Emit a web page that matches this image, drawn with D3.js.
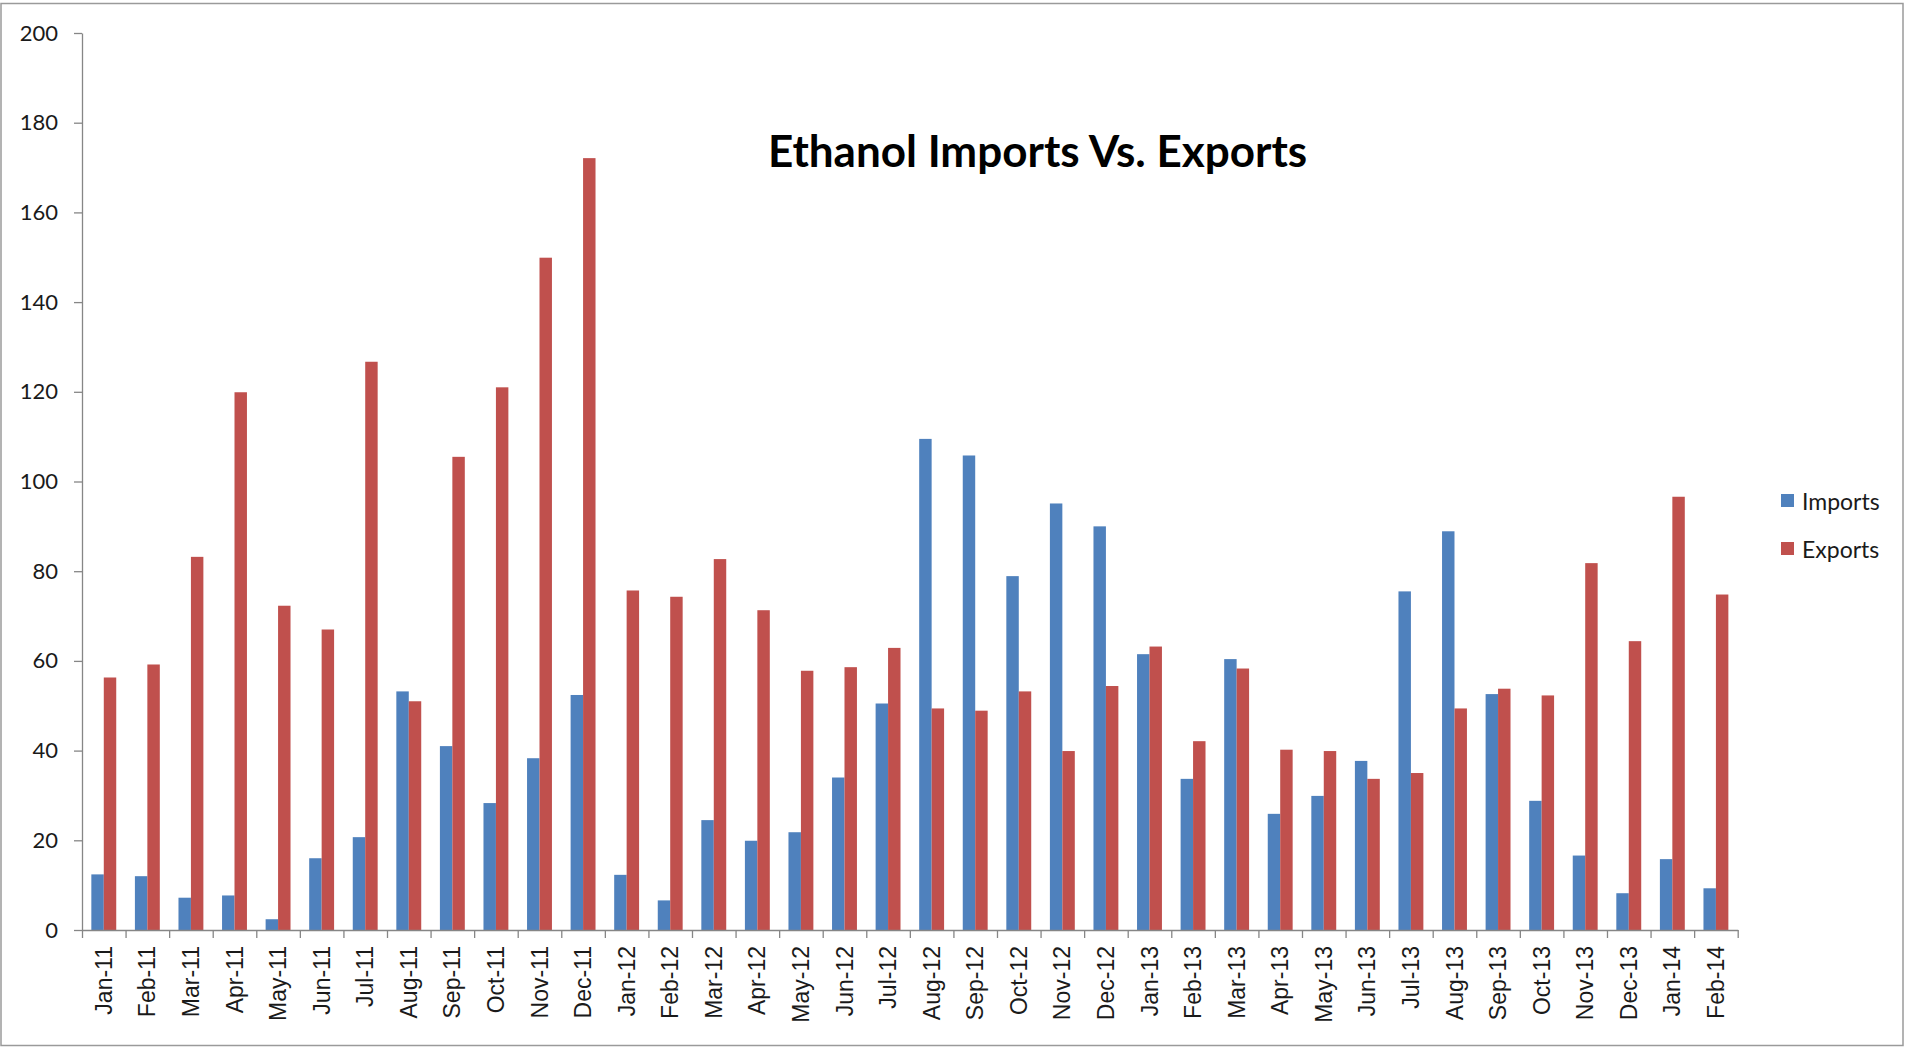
<!DOCTYPE html>
<html>
<head>
<meta charset="utf-8">
<script src="https://cdn.jsdelivr.net/npm/d3@7"></script>
<style>
  html, body { margin: 0; padding: 0; background: #fff; }
  svg { display: block; }
</style>
</head>
<body>
<svg id="chart" width="1905" height="1047"></svg>
<script>
(() => {
  const months = [
    "Jan-11", "Feb-11", "Mar-11", "Apr-11", "May-11", "Jun-11", "Jul-11", "Aug-11", "Sep-11", "Oct-11", "Nov-11", "Dec-11",
    "Jan-12", "Feb-12", "Mar-12", "Apr-12", "May-12", "Jun-12", "Jul-12", "Aug-12", "Sep-12", "Oct-12", "Nov-12", "Dec-12",
    "Jan-13", "Feb-13", "Mar-13", "Apr-13", "May-13", "Jun-13", "Jul-13", "Aug-13", "Sep-13", "Oct-13", "Nov-13", "Dec-13",
    "Jan-14", "Feb-14",
  ];
  const imports = [
    12.4, 12.0, 7.2, 7.7, 2.4, 16.0, 20.7, 53.2, 41.0, 28.3, 38.3, 52.4,
    12.3, 6.6, 24.5, 19.9, 21.8, 34.0, 50.5, 109.5, 105.8, 78.9, 95.1, 90.0,
    61.5, 33.7, 60.4, 25.9, 29.9, 37.7, 75.5, 88.9, 52.6, 28.8, 16.6, 8.2,
    15.8, 9.3,
  ];
  const exports = [
    56.3, 59.2, 83.2, 119.9, 72.3, 67.0, 126.7, 51.0, 105.5, 121.0, 149.9, 172.1,
    75.7, 74.3, 82.7, 71.3, 57.8, 58.6, 62.9, 49.4, 48.9, 53.2, 39.9, 54.4,
    63.2, 42.1, 58.3, 40.2, 39.9, 33.7, 35.0, 49.4, 53.8, 52.3, 81.8, 64.4,
    96.6, 74.8,
  ];
  const seriesNames = ["Imports", "Exports"];
  const yTicks = [0, 20, 40, 60, 80, 100, 120, 140, 160, 180, 200];
  const title = "Ethanol Imports Vs. Exports";

  const colors = { Imports: "#4F81BD", Exports: "#C0504D" };
  const axisColor = "#868686";
  const textColor = "#1a1a1a";

  const svg = d3.select("#chart");

  // outer chart border
  svg.append("rect")
    .attr("x", 1).attr("y", 3.5)
    .attr("width", 1902).attr("height", 1042)
    .attr("fill", "#fff")
    .attr("stroke", "#9a9a9a")
    .attr("stroke-width", 1.5);

  const plot = { left: 82, right: 1737.7, top: 33, bottom: 930 };

  const x = d3.scaleBand().domain(months).range([plot.left, plot.right]).padding(0);
  const bw = x.bandwidth();
  const gapHalf = (bw * 0.75) / 3.5;
  const xs = d3.scaleBand().domain(seriesNames).range([gapHalf, bw - gapHalf]).padding(0);

  const y = d3.scaleLinear().domain([0, 200]).range([plot.bottom, plot.top]);

  const rows = months.map((m, i) => ({ month: m, Imports: imports[i], Exports: exports[i] }));

  // bars
  const groups = svg.append("g")
    .selectAll("g")
    .data(rows)
    .join("g")
    .attr("transform", (d) => `translate(${x(d.month)},0)`);

  groups.selectAll("rect")
    .data((d) => seriesNames.map((s) => ({ key: s, value: d[s] })))
    .join("rect")
    .attr("x", (d) => xs(d.key))
    .attr("y", (d) => y(d.value))
    .attr("width", xs.bandwidth())
    .attr("height", (d) => y(0) - y(d.value))
    .attr("fill", (d) => colors[d.key]);

  // y axis
  const yAxis = svg.append("g")
    .attr("transform", `translate(${plot.left},0)`)
    .call(d3.axisLeft(y).tickValues(yTicks).tickSize(8).tickSizeOuter(0).tickPadding(16));
  yAxis.select(".domain").attr("stroke", axisColor).attr("stroke-width", 1.3);
  yAxis.selectAll(".tick line").attr("stroke", axisColor).attr("stroke-width", 1.3);
  yAxis.selectAll(".tick text")
    .attr("font-family", "Lato, 'Open Sans', sans-serif")
    .attr("font-size", 22)
    .attr("fill", textColor);

  // x axis: boundary ticks
  const xi = d3.scaleLinear().domain([0, months.length]).range([plot.left, plot.right]);
  const xTickAxis = svg.append("g")
    .attr("transform", `translate(0,${plot.bottom})`)
    .call(d3.axisBottom(xi).ticks(months.length).tickValues(d3.range(0, months.length + 1)).tickSize(8).tickSizeOuter(0).tickFormat(""));
  xTickAxis.select(".domain").attr("stroke", axisColor).attr("stroke-width", 1.3);
  xTickAxis.selectAll(".tick line").attr("stroke", axisColor).attr("stroke-width", 1.3);

  // x axis: category labels
  const xLabelAxis = svg.append("g")
    .attr("transform", `translate(0,${plot.bottom})`)
    .call(d3.axisBottom(x).tickSize(0).tickPadding(0));
  xLabelAxis.select(".domain").remove();
  xLabelAxis.selectAll(".tick text")
    .attr("transform", "rotate(-90)")
    .attr("text-anchor", "end")
    .attr("x", -16)
    .attr("y", 0)
    .attr("dy", "0.35em")
    .attr("font-family", "'Liberation Sans', Arial, sans-serif")
    .attr("font-size", 23)
    .attr("fill", textColor);

  // title
  svg.append("text")
    .attr("x", 768)
    .attr("y", 167)
    .attr("font-family", "Lato, 'Open Sans', sans-serif")
    .attr("font-weight", 700)
    .attr("font-size", 44)
    .attr("fill", "#000")
    .text(title);

  // legend
  const legend = svg.append("g")
    .selectAll("g")
    .data(seriesNames)
    .join("g")
    .attr("transform", (d, i) => `translate(1781,${494 + i * 48})`);
  legend.append("rect")
    .attr("width", 13).attr("height", 13)
    .attr("fill", (d) => colors[d]);
  legend.append("text")
    .attr("x", 21)
    .attr("y", 16)
    .attr("font-family", "Lato, 'Open Sans', sans-serif")
    .attr("font-size", 23)
    .attr("fill", textColor)
    .text((d) => d);
})();
</script>
</body>
</html>
